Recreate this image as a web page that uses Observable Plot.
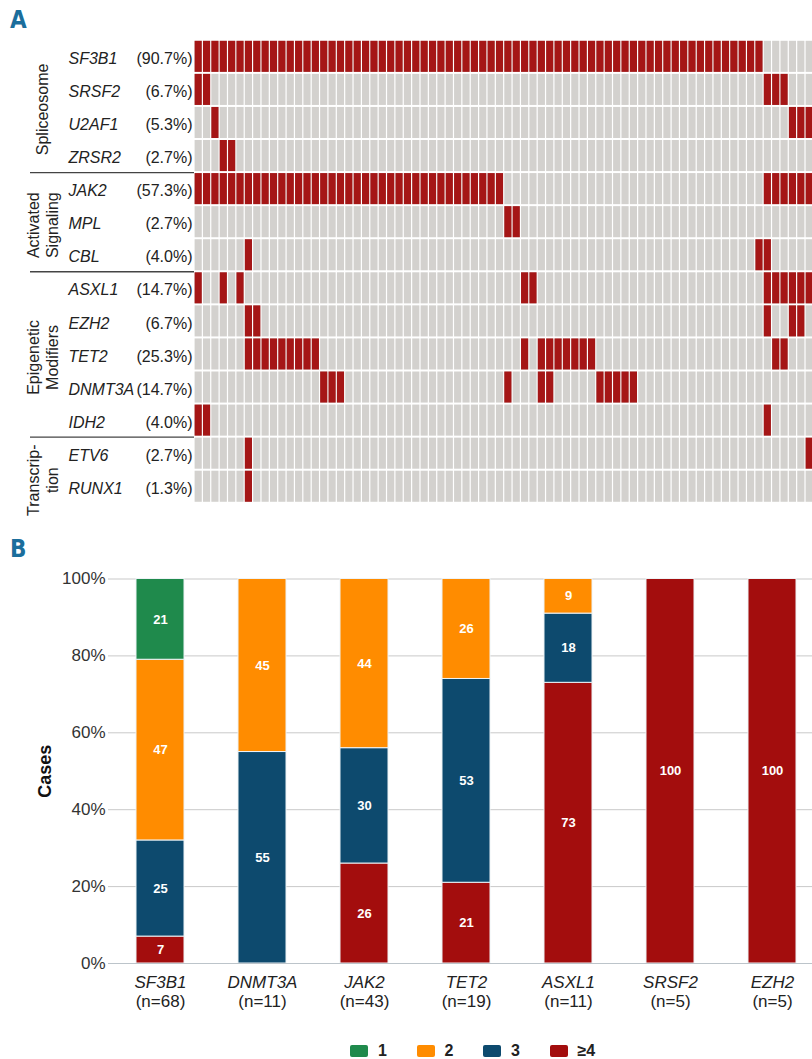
<!DOCTYPE html>
<html>
<head>
<meta charset="utf-8">
<script src="https://cdn.jsdelivr.net/npm/d3@7"></script>
<script src="https://cdn.jsdelivr.net/npm/@observablehq/plot@0.6"></script>
<style>
  body { margin: 0; background: #fff; }
  #page { position: relative; width: 812px; height: 1059px; overflow: hidden; font-family: "Liberation Sans", Arial, sans-serif; }
  .plabel { position: absolute; z-index: 3; font-family: "DejaVu Sans Condensed", "DejaVu Sans", sans-serif; font-stretch: condensed; font-weight: bold; color: #1b6e9c; font-size: 24px; line-height: 1; }
  #panelA { position: absolute; left: 0; top: 0; display: flex; }
  #panelB { position: absolute; left: 0; top: 530px; }
  #legend { position: absolute; left: 350px; top: 1044px; display: flex; font-weight: bold; font-size: 16px; color: #222; }
  #legend .item { display: flex; align-items: center; width: 66.5px; height: 14px; }
  #legend .sw { width: 18px; height: 12px; border-radius: 2px; margin-right: 10px; }
</style>
</head>
<body>
<div id="page">
  <div class="plabel" style="left:10px;top:8px;">A</div>
  <div id="panelA"></div>
  <div class="plabel" style="left:10px;top:537px;">B</div>
  <div id="panelB"></div>
  <div id="legend"></div>
</div>
<script>
// ---------- Panel A data ----------
const nPatients = 75;
const genes = ["SF3B1","SRSF2","U2AF1","ZRSR2","JAK2","MPL","CBL","ASXL1","EZH2","TET2","DNMT3A","IDH2","ETV6","RUNX1"];
const genePercents = [90.7, 6.7, 5.3, 2.7, 57.3, 2.7, 4.0, 14.7, 6.7, 25.3, 14.7, 4.0, 2.7, 1.3];
// mutated patient columns per gene, written as [first, last] runs (0-based)
const mutatedRuns = [
  [[0,67]],                                   // SF3B1
  [[0,1],[68,70]],                            // SRSF2
  [[2,2],[71,73]],                            // U2AF1
  [[3,4]],                                    // ZRSR2
  [[0,36],[68,73]],                           // JAK2
  [[37,38]],                                  // MPL
  [[6,6],[67,68]],                            // CBL
  [[0,0],[3,3],[5,5],[39,40],[68,73]],        // ASXL1
  [[6,7],[68,68],[71,72]],                    // EZH2
  [[6,14],[39,39],[41,47],[69,70]],           // TET2
  [[15,17],[37,37],[41,42],[48,52]],          // DNMT3A
  [[0,1],[68,68]],                            // IDH2
  [[6,6],[73,73]],                            // ETV6
  [[6,6]]                                     // RUNX1
];
const groupNames = ["Spliceosome", "Activated\nSignaling", "Epigenetic\nModifiers", "Transcrip-\ntion"];
const groupSizes = [4, 3, 5, 2];

// ---------- Panel B data ----------
const barGenes = ["SF3B1","DNMT3A","JAK2","TET2","ASXL1","SRSF2","EZH2"];
const barN = [68, 11, 43, 19, 11, 5, 5];
const categories = ["1", "2", "3", "≥4"];
const catColors = ["#1f8a4c", "#ff8c00", "#0d4a6e", "#a30d0d"];
const pctCat1 = [21, 0, 0, 0, 0, 0, 0];
const pctCat2 = [47, 45, 44, 26, 9, 0, 0];
const pctCat3 = [25, 55, 30, 53, 18, 0, 0];
const pctCat4 = [7, 0, 26, 21, 73, 100, 100];

const MUT_RED = "#a51616";
const BG_GRAY = "#d3d1ce";

// ---------- Build Panel A ----------
const rows = genes.map((g, i) => ({gene: g, i, pct: genePercents[i]}));
const bgCells = [];
genes.forEach((g, i) => { for (let p = 0; p < nPatients; p++) bgCells.push({i, p}); });
const mutCells = [];
mutatedRuns.forEach((runs, i) => runs.forEach(([a, b]) => { for (let p = a; p <= b; p++) mutCells.push({i, p}); }));
let acc = 0;
const groups = groupNames.map((name, k) => { const start = acc; acc += groupSizes[k]; return {name, start, stop: acc}; });
const lastGroup = groups.length - 1;

const rowStep = 33.07, rowTop = 39.8, colStep = 8.37;
const yOpt = {type: "linear", domain: [0, genes.length], range: [rowTop, rowTop + genes.length * rowStep], axis: null};
const font = "Liberation Sans, Arial, sans-serif";
const groupText = {y: d => (d.start + d.stop) / 2, text: "name", rotate: -90, textAnchor: "middle", frameAnchor: "left", dx: 12, fontSize: 16, lineHeight: 1.15};

const labelPlot = Plot.plot({
  width: 194, height: 525, marginLeft: 30, marginRight: 0, marginTop: 0, marginBottom: 0,
  y: yOpt,
  style: {fontFamily: font, color: "#222", background: "transparent", overflow: "visible"},
  marks: [
    Plot.text(rows, {y: d => d.i + 0.5, text: "gene", frameAnchor: "left", dx: 38, dy: 2, textAnchor: "start", fontStyle: "italic", fontSize: 16}),
    Plot.text(rows, {y: d => d.i + 0.5, text: d => `(${d.pct.toFixed(1)}%)`, frameAnchor: "right", textAnchor: "end", dx: -2, dy: 2, fontSize: 16}),
    Plot.ruleY(groups.slice(1), {y: "start", stroke: "#444", strokeWidth: 1.4}),
    Plot.text(groups.slice(0, lastGroup), {...groupText, dy: 3}),
    Plot.text(groups.slice(lastGroup), {...groupText, dy: 10})
  ]
});

const heatPlot = Plot.plot({
  width: 618, height: 525, marginLeft: 0, marginRight: 0, marginTop: 0, marginBottom: 0,
  x: {type: "linear", domain: [0, nPatients], range: [0, nPatients * colStep], axis: null},
  y: yOpt,
  style: {background: "transparent"},
  marks: [
    Plot.rect(bgCells, {x1: "p", x2: d => d.p + 1, y1: "i", y2: d => d.i + 1, fill: BG_GRAY, insetLeft: 0.6, insetRight: 0.6, insetTop: 1, insetBottom: 1, clip: true}),
    Plot.rect(mutCells, {x1: "p", x2: d => d.p + 1, y1: "i", y2: d => d.i + 1, fill: MUT_RED, insetLeft: 0.6, insetRight: 0.6, insetTop: 1, insetBottom: 1, clip: true})
  ]
});
document.getElementById("panelA").append(labelPlot, heatPlot);

// ---------- Build Panel B ----------
const catSeries = [pctCat4, pctCat3, pctCat2, pctCat1];
const catOrder = ["≥4", "3", "2", "1"];
const segs = [];
catSeries.forEach((vals, k) => vals.forEach((v, j) => { if (v > 0) segs.push({gene: barGenes[j], cat: catOrder[k], value: v}); }));
const nLabels = barGenes.map((g, j) => ({gene: g, n: barN[j]}));

const barPlot = Plot.plot({
  width: 812, height: 505, marginTop: 48.5, marginBottom: 72, marginLeft: 108, marginRight: 0,
  x: {domain: barGenes, range: [81.2, 851], padding: 0.526, axis: null},
  y: {domain: [0, 100], axis: null},
  color: {domain: categories, range: catColors},
  style: {fontFamily: font, color: "#333", background: "transparent"},
  marks: [
    Plot.gridY({ticks: [20, 40, 60, 80, 100], stroke: "#c9c9c9", strokeOpacity: 1}),
    Plot.axisY({ticks: [0, 20, 40, 60, 80, 100], tickFormat: d => d + "%", tickSize: 0, tickPadding: 3, fontSize: 17, label: null}),
    Plot.barY(segs, {x: "gene", y: "value", fill: "cat", stroke: "#eef3f6", strokeWidth: 1}),
    Plot.ruleY([0], {stroke: "#bcc4ca"}),
    Plot.text(segs, Plot.stackY({x: "gene", y: "value", z: "cat", text: d => d.value, fill: "white", fontWeight: "bold", fontSize: 13})),
    Plot.text(nLabels, {x: "gene", text: "gene", frameAnchor: "bottom", dy: 24, fontStyle: "italic", fontSize: 17, fill: "#222"}),
    Plot.text(nLabels, {x: "gene", text: d => `(n=${d.n})`, frameAnchor: "bottom", dy: 43, fontSize: 17, fill: "#222"}),
    Plot.text(["Cases"], {text: d => d, frameAnchor: "left", textAnchor: "middle", dx: -63, rotate: -90, fontWeight: "bold", fontSize: 18, fill: "#111"})
  ]
});
document.getElementById("panelB").append(barPlot);

// ---------- Legend ----------
const legend = d3.select("#legend");
categories.forEach((c, k) => {
  const it = legend.append("div").attr("class", "item");
  it.append("div").attr("class", "sw").style("background", catColors[k]);
  it.append("span").text(c);
});
</script>
</body>
</html>
